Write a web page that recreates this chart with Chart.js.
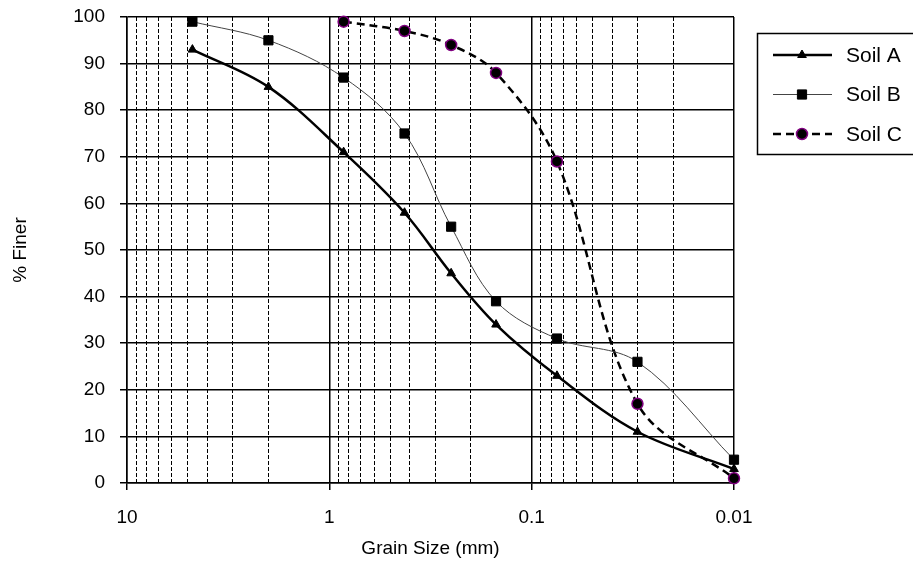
<!DOCTYPE html>
<html>
<head>
<meta charset="utf-8">
<script src="https://cdn.jsdelivr.net/npm/chart.js@4.4.1/dist/chart.umd.min.js"></script>
<style>
  html, body { margin: 0; padding: 0; background: #fff; }
  #wrap { width: 913px; height: 564px; }
</style>
</head>
<body>
<div id="wrap"><canvas id="chart" width="913" height="564"></canvas></div>
<script>
// grain sizes (mm) and % finer for each soil
const sizesAll = [4.75, 2.0, 0.85, 0.425, 0.25, 0.15, 0.075, 0.03, 0.01];
const soilA = [93, 85, 71, 58, 45, 34, 23, 11, 3];
const soilB = [99, 95, 87, 75, 55, 39, 31, 26, 5];
const sizesC = [0.85, 0.425, 0.25, 0.15, 0.075, 0.03, 0.01];
const soilC = [99, 97, 94, 88, 69, 17, 1];

const seriesNames = ["Soil A", "Soil B", "Soil C"];

// log axis: decades get labels, 2..9 get dashed lines
const xDecades = [0.01, 0.1, 1, 10];
const xMinorSteps = [2, 3, 4, 5, 6, 7, 8, 9];
const yTicks = [0, 10, 20, 30, 40, 50, 60, 70, 80, 90, 100];

function pairs(xs, ys) {
  return xs.map((x, i) => ({ x: x, y: ys[i] }));
}

function isDecade(v) {
  const l = Math.log10(v);
  return Math.abs(l - Math.round(l)) < 1e-6;
}

const xTickValues = [];
xDecades.forEach((d) => {
  xTickValues.push(d);
  if (d < 10) {
    xMinorSteps.forEach((m) => xTickValues.push(d * m));
  }
});

const FONT = "'Liberation Sans', Arial, sans-serif";

// legend drawn by hand so it can have the framed box
const boxLegend = {
  id: "boxLegend",
  afterDraw(chart) {
    const c = chart.ctx;
    c.save();
    c.strokeStyle = "#000";
    c.lineWidth = 1.5;
    c.strokeRect(757.5, 33.5, 170, 121);
    const rows = [55, 94.5, 134];
    chart.data.datasets.forEach((ds, i) => {
      const y = rows[i];
      c.save();
      c.strokeStyle = ds.borderColor;
      c.lineWidth = ds.borderWidth;
      c.setLineDash(ds.borderDash || []);
      c.beginPath();
      c.moveTo(773, y);
      c.lineTo(832, y);
      c.stroke();
      c.restore();
      c.fillStyle = ds.pointBackgroundColor;
      c.strokeStyle = ds.pointBorderColor;
      c.lineWidth = ds.pointBorderWidth || 1;
      Chart.helpers.drawPoint(c, {
        pointStyle: ds.pointStyle,
        radius: ds.pointRadius,
        borderWidth: ds.pointBorderWidth || 1,
        rotation: 0
      }, 802, y);
      c.fillStyle = "#000";
      c.font = "21px " + FONT;
      c.textBaseline = "middle";
      c.fillText(seriesNames[i], 846, y + 1);
    });
    c.restore();
  }
};

new Chart(document.getElementById("chart"), {
  type: "line",
  data: {
    datasets: [
      {
        label: seriesNames[0],
        data: pairs(sizesAll, soilA),
        borderColor: "#000",
        borderWidth: 2.5,
        pointStyle: "triangle",
        pointRadius: 5,
        pointBackgroundColor: "#000",
        pointBorderColor: "#000",
        pointBorderWidth: 1,
        tension: 0.35,
        clip: false
      },
      {
        label: seriesNames[1],
        data: pairs(sizesAll, soilB),
        borderColor: "#444",
        borderWidth: 1,
        pointStyle: "rect",
        pointRadius: 6.5,
        pointBackgroundColor: "#000",
        pointBorderColor: "#000",
        pointBorderWidth: 1,
        tension: 0.35,
        clip: false
      },
      {
        label: seriesNames[2],
        data: pairs(sizesC, soilC),
        borderColor: "#000",
        borderWidth: 2.5,
        borderDash: [8, 5],
        pointStyle: "circle",
        pointRadius: 5.5,
        pointBackgroundColor: "#000",
        pointBorderColor: "#800080",
        pointBorderWidth: 1.5,
        tension: 0.35,
        clip: false
      }
    ]
  },
  options: {
    responsive: false,
    animation: false,
    layout: { padding: { left: 0, top: 17, right: 179, bottom: 0 } },
    plugins: {
      legend: { display: false },
      tooltip: { enabled: false }
    },
    scales: {
      x: {
        type: "logarithmic",
        reverse: true,
        min: 0.01,
        max: 10,
        afterBuildTicks: (scale) => {
          scale.ticks = xTickValues.map((v) => ({ value: v }));
        },
        afterFit: (scale) => {
          scale.height = 81;
          scale.paddingLeft = 0;
          scale.paddingRight = 0;
        },
        ticks: {
          autoSkip: false,
          maxRotation: 0,
          padding: 16,
          color: "#000",
          font: { family: FONT, size: 19 },
          callback: (v) => (isDecade(v) ? String(+v.toPrecision(3)) : "")
        },
        grid: {
          color: "#000",
          lineWidth: (ctx) => (ctx.tick && isDecade(ctx.tick.value) ? 1.5 : 1),
          tickLength: 7,
          tickColor: (ctx) => (ctx.tick && isDecade(ctx.tick.value) ? "#000" : "rgba(0,0,0,0)")
        },
        border: {
          color: "#000",
          width: 1.5,
          dash: (ctx) => (ctx.tick && !isDecade(ctx.tick.value) ? [4, 2] : [])
        },
        title: {
          display: true,
          text: "Grain Size (mm)",
          color: "#000",
          font: { family: FONT, size: 19 },
          padding: { top: 0, bottom: 4 }
        }
      },
      y: {
        min: 0,
        max: 100,
        afterBuildTicks: (scale) => {
          scale.ticks = yTicks.map((v) => ({ value: v }));
        },
        afterFit: (scale) => {
          scale.width = 127;
          scale.paddingTop = 0;
          scale.paddingBottom = 0;
        },
        ticks: {
          padding: 15,
          color: "#000",
          font: { family: FONT, size: 19 }
        },
        grid: {
          color: "#000",
          lineWidth: 1.5,
          tickLength: 7
        },
        border: { color: "#000", width: 1.5 },
        title: {
          display: true,
          text: "% Finer",
          color: "#000",
          font: { family: FONT, size: 19 },
          padding: { top: 9, bottom: 0 }
        }
      }
    }
  },
  plugins: [boxLegend]
});
</script>
</body>
</html>
